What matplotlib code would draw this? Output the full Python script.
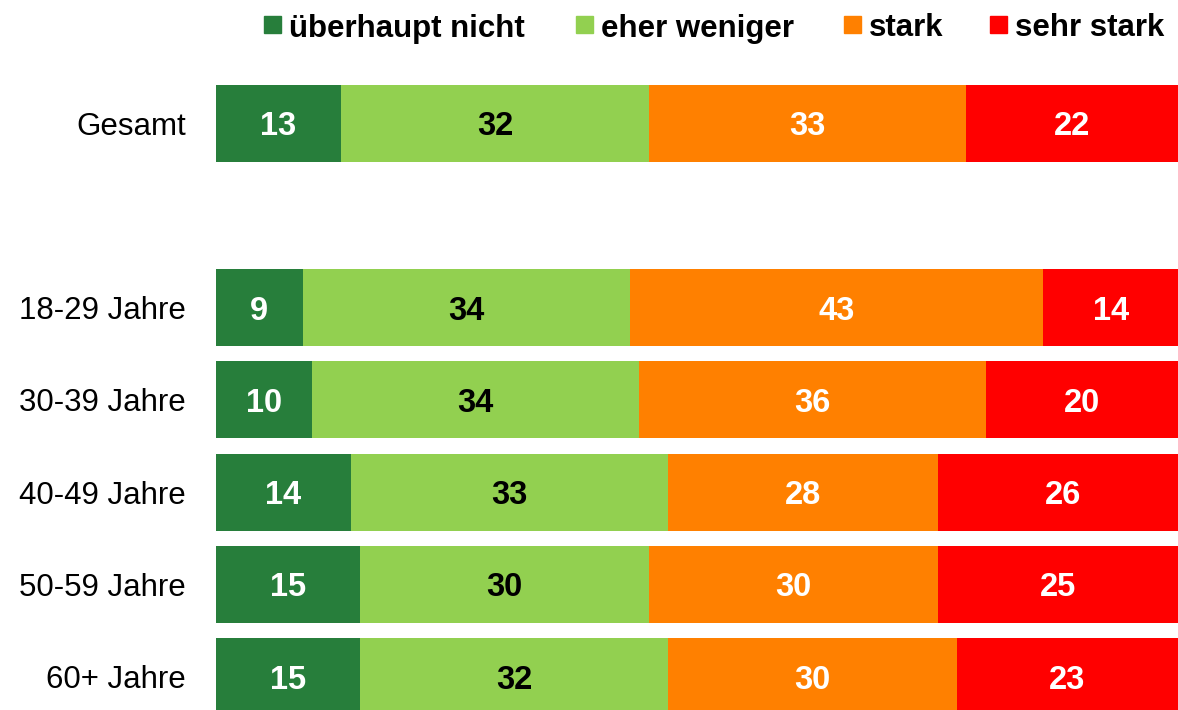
import matplotlib.pyplot as plt
from matplotlib.patches import Rectangle
import numpy as np

# Daten
categories = ['Gesamt', '18-29 Jahre', '30-39 Jahre', '40-49 Jahre', '50-59 Jahre', '60+ Jahre']
positions = [0, 2, 3, 4, 5, 6]  # Lücke nach "Gesamt"
series_names = ['überhaupt nicht', 'eher weniger', 'stark', 'sehr stark']
ueberhaupt_nicht = [13, 9, 10, 14, 15, 15]
eher_weniger = [32, 34, 34, 33, 30, 32]
stark = [33, 43, 36, 28, 30, 30]
sehr_stark = [22, 14, 20, 26, 25, 23]

colors = ['#277E3B', '#92D050', '#FF8000', '#FF0000']
text_colors = ['white', 'black', 'white', 'white']

plt.rcParams['font.family'] = ['Liberation Sans', 'DejaVu Sans']

W, H = 1178, 710
fig = plt.figure(figsize=(W / 100, H / 100), dpi=100)
ax = fig.add_axes([216 / W, 0, 1 - 216 / W, (H - 76.9) / H])

series = [ueberhaupt_nicht, eher_weniger, stark, sehr_stark]
left = np.zeros(len(categories))
for vals, col, tcol in zip(series, colors, text_colors):
    vals = np.array(vals, dtype=float)
    ax.barh(positions, vals, left=left, height=0.835, color=col, edgecolor='none')
    for y, l, v in zip(positions, left, vals):
        ax.text(l + v / 2, y, f'{int(v)}', ha='center', va='center_baseline',
                color=tcol, fontsize=23.5, fontweight='bold')
    left += vals

ax.set_xlim(0, 100)
ax.set_ylim(6.363, -0.5)
ax.set_yticks(positions)
ax.set_yticklabels(categories, fontsize=22.5)
ax.tick_params(axis='y', length=0, pad=21.6)
ax.set_xticks([])
for s in ax.spines.values():
    s.set_visible(False)

# Legende (manuell)
leg_x = [264, 576, 844, 990]
for x, col, name in zip(leg_x, colors, series_names):
    fig.patches.append(Rectangle((x / W, 1 - 33 / H), 17 / W, 17 / H,
                                 transform=fig.transFigure, color=col))
    fig.text((x + 25) / W, 1 - 25 / H, name, ha='left', va='center_baseline',
             fontsize=22.5, fontweight='bold', color='black')

fig.savefig('out.png', dpi=100)
